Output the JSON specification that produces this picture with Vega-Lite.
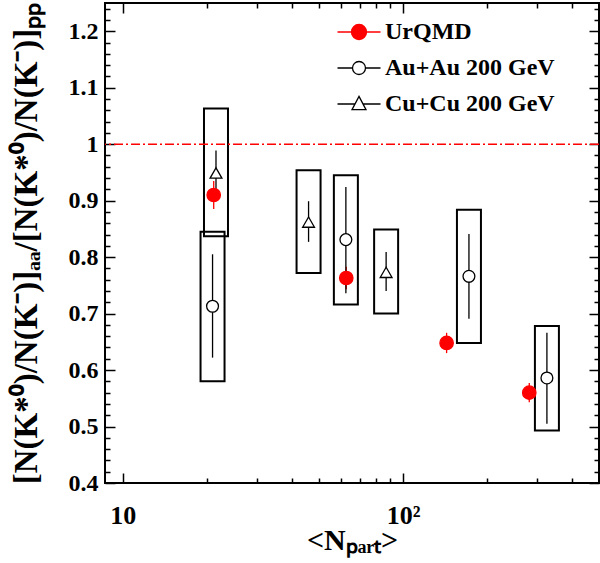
{
  "$schema": "https://vega.github.io/schema/vega-lite/v6.json",
  "width": 494,
  "height": 480,
  "autosize": "none",
  "padding": {"left": 105, "top": 3, "right": 1, "bottom": 80},
  "background": "white",
  "config": {
    "view": {"stroke": "black", "strokeWidth": 2},
    "font": "Liberation Serif"
  },
  "datasets": {
    "pts": [
      {"series": "UrQMD", "npart": 21.1, "ratio": 0.910, "elo": 0.885, "ehi": 0.935},
      {"series": "UrQMD", "npart": 62.7, "ratio": 0.763, "elo": 0.743, "ehi": 0.783},
      {"series": "UrQMD", "npart": 143, "ratio": 0.648, "elo": 0.630, "ehi": 0.666},
      {"series": "UrQMD", "npart": 282, "ratio": 0.560, "elo": 0.543, "ehi": 0.577},
      {"series": "Au+Au 200 GeV", "npart": 20.9, "ratio": 0.713, "elo": 0.622, "ehi": 0.805, "slo": 0.580, "shi": 0.845},
      {"series": "Au+Au 200 GeV", "npart": 62.5, "ratio": 0.831, "elo": 0.736, "ehi": 0.924, "slo": 0.716, "shi": 0.945},
      {"series": "Au+Au 200 GeV", "npart": 171.8, "ratio": 0.766, "elo": 0.691, "ehi": 0.841, "slo": 0.648, "shi": 0.884},
      {"series": "Au+Au 200 GeV", "npart": 326, "ratio": 0.586, "elo": 0.505, "ehi": 0.666, "slo": 0.493, "shi": 0.678},
      {"series": "Cu+Cu 200 GeV", "npart": 21.5, "ratio": 0.949, "elo": 0.910, "ehi": 0.989, "slo": 0.837, "shi": 1.063},
      {"series": "Cu+Cu 200 GeV", "npart": 46.0, "ratio": 0.862, "elo": 0.827, "ehi": 0.899, "slo": 0.772, "shi": 0.954},
      {"series": "Cu+Cu 200 GeV", "npart": 87.0, "ratio": 0.773, "elo": 0.740, "ehi": 0.809, "slo": 0.700, "shi": 0.849}
    ]
  },
  "resolve": {"axis": {"x": "independent", "y": "independent"}},
  "layer": [
    {
      "data": {"name": "pts"},
      "transform": [{"filter": "datum.slo != null"}],
      "mark": {"type": "bar", "width": 24, "fill": "white", "fillOpacity": 0, "stroke": "black", "strokeWidth": 2},
      "encoding": {
        "x": {
          "field": "npart", "type": "quantitative", "scale": {"type": "log", "domain": [9, 480]},
          "axis": {"orient": "bottom", "values": [20, 30, 40, 50, 60, 70, 80, 90, 200, 300, 400], "tickSize": -5, "tickWidth": 1.5, "tickColor": "black", "labels": false, "domain": false, "grid": false, "title": null}
        },
        "y": {
          "field": "slo", "type": "quantitative", "scale": {"domain": [0.4, 1.25], "zero": false},
          "axis": {"orient": "left", "values": [0.42, 0.44, 0.46, 0.48, 0.52, 0.54, 0.56, 0.58, 0.62, 0.64, 0.66, 0.68, 0.72, 0.74, 0.76, 0.78, 0.82, 0.84, 0.86, 0.88, 0.92, 0.94, 0.96, 0.98, 1.02, 1.04, 1.06, 1.08, 1.12, 1.14, 1.16, 1.18, 1.22, 1.24], "tickSize": -5, "tickWidth": 1.5, "tickColor": "black", "labels": false, "domain": false, "grid": false, "title": null}
        },
        "y2": {"field": "shi"}
      }
    },
    {
      "data": {"name": "pts"},
      "mark": {"type": "rule", "strokeWidth": 1.3},
      "encoding": {
        "x": {
          "field": "npart", "type": "quantitative", "scale": {"type": "log", "domain": [9, 480]},
          "axis": {"orient": "top", "values": [20, 30, 40, 50, 60, 70, 80, 90, 200, 300, 400], "tickSize": -5, "tickWidth": 1.5, "tickColor": "black", "labels": false, "domain": false, "grid": false, "title": null}
        },
        "y": {
          "field": "elo", "type": "quantitative", "scale": {"domain": [0.4, 1.25], "zero": false},
          "axis": {"orient": "right", "values": [0.42, 0.44, 0.46, 0.48, 0.52, 0.54, 0.56, 0.58, 0.62, 0.64, 0.66, 0.68, 0.72, 0.74, 0.76, 0.78, 0.82, 0.84, 0.86, 0.88, 0.92, 0.94, 0.96, 0.98, 1.02, 1.04, 1.06, 1.08, 1.12, 1.14, 1.16, 1.18, 1.22, 1.24], "tickSize": -5, "tickWidth": 1.5, "tickColor": "black", "labels": false, "domain": false, "grid": false, "title": null}
        },
        "y2": {"field": "ehi"},
        "stroke": {"condition": {"test": "datum.series == 'UrQMD'", "value": "#ff0000"}, "value": "black"}
      }
    },
    {
      "data": {"values": [{"ref": 1}]},
      "mark": {"type": "rule", "color": "#ff0000", "strokeWidth": 1.5, "strokeDash": [9, 3, 2, 3]},
      "encoding": {
        "y": {"field": "ref", "type": "quantitative", "scale": {"domain": [0.4, 1.25], "zero": false}, "axis": null}
      }
    },
    {
      "data": {"name": "pts"},
      "mark": {"type": "point", "opacity": 1, "strokeWidth": 1.3},
      "encoding": {
        "x": {
          "field": "npart", "type": "quantitative",
          "scale": {"type": "log", "domain": [9, 480]},
          "axis": {
            "orient": "bottom",
            "values": [10, 100],
            "domain": false, "grid": false,
            "tickColor": "black", "tickWidth": 1.5, "tickSize": -10,
            "labelExpr": "datum.value == 10 ? '10' : '10²'",
            "labelFont": "Liberation Serif", "labelFontWeight": "bold", "labelFontSize": 26, "labelColor": "black",
            "labelPadding": 29, "labelOverlap": false, "labelFlush": false,
            "title": "<Nₚₐᵣₜ>",
            "titleFont": "Liberation Serif", "titleFontWeight": "bold", "titleFontSize": 30, "titleColor": "black",
            "titlePadding": -3
          }
        },
        "y": {
          "field": "ratio", "type": "quantitative",
          "scale": {"domain": [0.4, 1.25], "zero": false},
          "axis": {
            "orient": "left",
            "values": [0.4, 0.5, 0.6, 0.7, 0.8, 0.9, 1, 1.1, 1.2],
            "domain": false, "grid": false,
            "tickColor": "black", "tickWidth": 1.5, "tickSize": -10,
            "labelExpr": "datum.value == 1 ? '1' : format(datum.value, '.1f')",
            "labelFont": "Liberation Serif", "labelFontWeight": "bold", "labelFontSize": 24, "labelColor": "black",
            "labelPadding": 17, "labelOverlap": false, "labelFlush": false,
            "title": "[N(K*⁰)/N(K⁻)]ₐₐ/[N(K*⁰)/N(K⁻)]ₚₚ",
            "titleFont": "Liberation Serif", "titleFontWeight": "bold", "titleFontSize": 33, "titleColor": "black",
            "titlePadding": 25
          }
        },
        "shape": {"condition": {"test": "datum.series == 'Cu+Cu 200 GeV'", "value": "triangle-up"}, "value": "circle"},
        "fill": {"condition": {"test": "datum.series == 'UrQMD'", "value": "#ff0000"}, "value": "#ffffff"},
        "stroke": {"condition": {"test": "datum.series == 'UrQMD'", "value": "#ff0000"}, "value": "#000000"},
        "size": {"condition": {"test": "datum.series == 'UrQMD'", "value": 180}, "value": 140}
      }
    },
    {
      "data": {"name": "pts"},
      "transform": [{"filter": "datum.npart < 0"}],
      "mark": {"type": "point", "strokeWidth": 1.3},
      "encoding": {
        "shape": {
          "field": "series", "type": "nominal",
          "scale": {
            "domain": ["UrQMD", "Au+Au 200 GeV", "Cu+Cu 200 GeV"],
            "range": [
              "M-2.15,0H2.15M-0.75,0A0.75,0.75,0,1,1,0.75,0A0.75,0.75,0,1,1,-0.75,0Z",
              "M-2.15,0H-0.65M0.65,0H2.15M-0.65,0A0.65,0.65,0,1,1,0.65,0A0.65,0.65,0,1,1,-0.65,0Z",
              "M-2.15,0H-0.4M0.4,0H2.15M0,-0.76L0.7,0.57L-0.7,0.57Z"
            ]
          },
          "legend": {
            "orient": "none", "legendX": 242, "legendY": 17, "title": null, "padding": 0,
            "symbolSize": 400, "symbolStrokeWidth": 1.3, "symbolOpacity": 1, "rowPadding": 12,
            "labelFont": "Liberation Serif", "labelFontWeight": "bold", "labelFontSize": 24, "labelColor": "black",
            "labelOffset": 14, "labelLimit": 300
          }
        },
        "fill": {
          "field": "series", "type": "nominal",
          "scale": {"domain": ["UrQMD", "Au+Au 200 GeV", "Cu+Cu 200 GeV"], "range": ["#ff0000", "#ffffff", "#ffffff"]}
        },
        "stroke": {
          "field": "series", "type": "nominal",
          "scale": {"domain": ["UrQMD", "Au+Au 200 GeV", "Cu+Cu 200 GeV"], "range": ["#ff0000", "#000000", "#000000"]}
        }
      }
    },
    {
      "data": {"name": "pts"},
      "mark": {"type": "point", "opacity": 0},
      "encoding": {
        "x": {
          "field": "npart", "type": "quantitative",
          "scale": {"type": "log", "domain": [9, 480]},
          "axis": {"orient": "top", "values": [10, 100], "tickSize": -10, "tickWidth": 1.5, "tickColor": "black", "labels": false, "domain": false, "grid": false, "title": null}
        },
        "y": {
          "field": "ratio", "type": "quantitative",
          "scale": {"domain": [0.4, 1.25], "zero": false},
          "axis": {"orient": "right", "values": [0.4, 0.5, 0.6, 0.7, 0.8, 0.9, 1, 1.1, 1.2], "tickSize": -10, "tickWidth": 1.5, "tickColor": "black", "labels": false, "domain": false, "grid": false, "title": null}
        }
      }
    }
  ]
}
